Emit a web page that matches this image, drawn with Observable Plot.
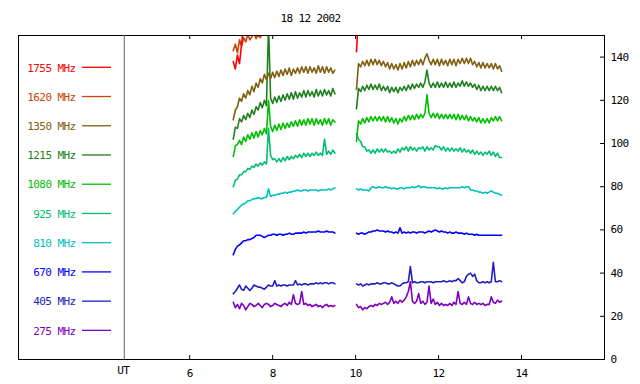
<!DOCTYPE html>
<html><head><meta charset="utf-8">
<script src="https://cdn.jsdelivr.net/npm/d3@7"></script>
<script src="https://cdn.jsdelivr.net/npm/@observablehq/plot@0.6"></script>
<style>
body{margin:0;background:#fff}
#wrap{position:relative;width:640px;height:384px}
#wrap svg text{font-family:"DejaVu Sans Mono",monospace;letter-spacing:-0.6px}
#overlay{position:absolute;left:0;top:0;pointer-events:none}
</style></head>
<body><div id="wrap"></div>
<script>
// ---- data ----
const title = "18 12 2002";
const names  = ["275 MHz","405 MHz","670 MHz","810 MHz","925 MHz","1080 MHz","1215 MHz","1350 MHz","1620 MHz","1755 MHz"];
const colors = ["#8000c0","#2020c0","#0000ff","#00c0c0","#00c070","#00c000","#208020","#806010","#cc4400","#ff0000"];
const xTicks = [6, 8, 10, 12, 14];
const yTicks = [0, 20, 40, 60, 80, 100, 120, 140];
const xLabel = "UT";
// sampling of the two observing segments (hours UT)
const seg1Start = 7.05, seg2Start = 10.02, stepH = 0.05;

const f275a = [26.5,24,25.5,23.5,26,25,23,24.5,26,25.5, 24.5,25,26,25,24,25.5,26,25.5,24.5,25, 26,25.5,25,24.5,25.5,26,25,26.5,25.5,30, 26,25.5,26,31.5,25.5,26,25,25.5,24.5,25, 25.5,24.5,25,24,25,25.5,24.5,25,24.5,25];
const f405a = [30.5,31.5,33,34.5,32.5,32,34,33,32,33, 34.5,34,33.5,33.5,33,32.5,33.5,34.5,34,34, 36.5,34,34.5,34,34.5,34.5,34,34.5,34.5,34.5, 36.5,34.5,35,34.5,35,35,34.5,35,35,35, 35.5,35,35.5,35,35.5,35.5,35,35.5,35.5,35];
const f670a = [48.5,51,52.5,53,54,55,55,55.5,55.5,56, 56.5,57.5,57.5,57.5,57,56.5,57,57.5,57.5,58, 58,57.5,58,58,57.5,58,58,58.5,58,58, 58.5,58.5,58.5,58.5,59,58.5,59,59,59,59, 59,59.5,59,59,59,59.5,59,59,59,58.5];
const f810a = [67.5,68.5,69.5,70.5,71.5,72,72.5,73.5,73.5,74, 74.5,74.5,75,74.5,74.5,75,75,79,75.5,76, 76,76.5,76.5,77,77,77.5,77,77.5,77.5,78, 78,78.5,78,78,78.5,78.5,78,78.5,78.5,78.5, 78.5,78,78.5,78.5,78.5,78.5,79,78.5,79,79.5];
const f925a = [80,83,83.5,85.5,85.5,87,87,88.5,88,89.5, 89,90.5,89.5,91,90,91.5,90.5,107,94.5,92.5, 93,91.5,93,91.5,93.5,92,94,92.5,94,93, 94.5,93.5,95,93.5,95.5,94,95.5,94,95.5,94.5, 96,94.5,95.5,94.5,102,95,96.5,95,97,95.5];
const f1080a = [94,99,99.5,101.5,99.5,103,101,104,102,105, 102.5,105.5,103,106,104,107,104.5,120,108,105.5, 108.5,106,109,106.5,109.5,107,109.5,107.5,110,108, 110.5,108,111,108.5,111,108.5,111.5,109,111.5,108.5, 111.5,109,111,108.5,111.5,109,111.5,108.5,111,110];
const f1215a = [102,107.5,107,111.5,110,113,111,114,112,115.5, 113.5,117,115.5,119,116.5,120,117.5,155,121,118.5, 121.5,119,122,119.5,122.5,120,123,120.5,123.5,120.5, 124,121,123.5,121.5,124.5,121.5,124.5,122,124,121.5, 125,122,124.5,122,125,122.5,124.5,122,125.5,123];
const f1350a = [111,115.5,117,121,119.5,123,121,124.5,122.5,126.5, 124,128,126,130,128,132,129.5,132.5,130,133, 130.5,133.5,131,134,131.5,134.5,132,135,131.5,134.5, 132.5,135,132.5,135.5,133,135.5,132.5,135.5,133,135, 132.5,136,133,135.5,132.5,135.5,133,135,132.5,134];
const f1620a = [143,146,142,148,145,149,147,150.5,148,149.5,151,148.5,150.5,149,151.5,155];
const f1755a = [138,134.5,141,137,146,155];

const f275b = [25.5,24,24.5,23,24,23.5,24.5,25,24.5,25.5, 25,26,25.5,26,26.5,25.5,26.5,29,26,27, 26,27.5,26.5,27.5,29,31.5,36,27,26,27, 30.5,26,27,25.5,26.5,34,26,28,25.5,26.5, 25,26,25,25.5,25,26,25,26.5,25.5,31.5, 26,25.5,26.5,25.5,29,26,25.5,26.5,25.5,26, 25.5,26,25,25.5,25.5,29,26.5,26,27.5,26.5, 27];
const f405b = [35,34.5,35,34,34.5,35,34.5,35,35,35, 35.5,35,35,35.5,35.5,35,35,35.5,35,34.5, 34,34,35,35.5,35.5,36,43,35.5,36,35.5, 35.5,36,36,35.5,36,36,36,35.5,36,36, 36,36,36.5,36,36,36.5,36,36.5,36.5,37.5, 36.5,35.5,36,38.5,39.5,40,38.5,39.5,36.5,35.5, 35.5,36,35.5,36,35.5,36,45,36,36,36.5, 36];
const f670b = [58.5,58,58.5,58.5,58,58.5,59,59,59.5,59.5, 60,59.5,59.5,59.5,59,59.5,59,59,58.5,59, 58.5,61,58.5,59,58.5,59,58.5,59,59,58.5, 59,59,59,58.5,59,59.5,59,59.5,60,59.5, 59,59.5,59,59,58.5,59,58.5,58.5,59,58.5, 58.5,58.5,58,58.5,58,58,58,57.5,58,57.5, 57.5,57.5,57.5,57.5,57.5,57.5,57.5,57.5,57.5,57.5, 57.5];
const f810b = [79,78.5,79,78.5,78.5,78.5,78,79.5,80,79.5, 79.5,80,79.5,79.5,80,79.5,79.5,79,79.5,79, 79,79.5,79.5,79,79.5,79.5,79.5,80,79.5,80, 80.5,79.5,80,80,79.5,79.5,79.5,79.5,79.5,79, 79.5,79,79,79.5,79,79.5,79.5,79.5,79.5,79.5, 79.5,80,79.5,80,80,78.5,78.5,78,78,77.5, 77.5,77,77.5,77,77.5,78,77.5,77,77,76.5, 76];
const f925b = [104.5,102,101,98.5,98.5,96.5,97,95.5,97,95.5, 97.5,96,97.5,96,97.5,96,96.5,95.5,96.5,95.5, 97.5,96,98,97,98.5,96.5,98.5,97,98,96.5, 98,97.5,98.5,96.5,98.5,97,98,97,99,98.5, 98.5,97,98.5,96.5,98,96.5,98,96.5,97.5,96.5, 98,96,97.5,96,97,95.5,97,95,96.5,95, 96,94.5,96,95,96.5,94.5,96,94,95.5,93.5, 93.5];
const f1080b = [101,110.5,109,111.5,109.5,112,110,112.5,110.5,112.5, 110.5,112.5,110.5,112.5,110,112.5,110,112,109.5,111.5, 109,111.5,110,112.5,110.5,113,111,113,111,113.5, 111.5,113.5,112,114,122.5,114,112,114,112,114, 111.5,113.5,111.5,113.5,111.5,113.5,111.5,113.5,111,113.5, 111,113,111,113,110.5,112.5,110.5,112,110,112, 109.5,111.5,109.5,111.5,109.5,112,110.5,112.5,110.5,112.5, 110.5];
const f1215b = [116,125.5,124,126.5,124.5,127,125,127.5,125,127, 125,127.5,124.5,126.5,124.5,126.5,123.5,126,124,126, 123.5,126,124.5,126.5,124.5,127,125,127.5,125.5,127.5, 126,128,126,128.5,134,128,126,128,126,128.5, 126,128,126,128.5,126,128,126,128.5,126,128, 126.5,129,126.5,128.5,126.5,128,126,127.5,125,127, 124.5,126.5,124.5,126.5,124.5,126.5,124.5,126.5,124.5,126, 123.5];
const f1350b = [125,137,135.5,138,136,138.5,136,139,136.5,139, 136.5,138.5,136,138,135.5,137.5,134.5,137,134.5,136.5, 134,137,134.5,137.5,135,138,135.5,138.5,136,138.5, 136.5,139,136.5,139.5,141.5,138.5,136.5,139,136.5,139, 136,139,136.5,138.5,136,139,136.5,139,136,139, 137,139.5,137,139.5,137,139.5,136.5,138,135.5,137.5, 135,137.5,135,137,135,137,134.5,137,134.5,136, 133.5];
const f1620b = [];
const f1755b = [142.5,160];

const seg1 = [f275a,f405a,f670a,f810a,f925a,f1080a,f1215a,f1350a,f1620a,f1755a];
const seg2 = [f275b,f405b,f670b,f810b,f925b,f1080b,f1215b,f1350b,f1620b,f1755b];

const data = [];
names.forEach((name, k) => {
  seg1[k].forEach((v, i) => data.push({name, key: name + "-1", t: seg1Start + i * stepH, v}));
  seg2[k].forEach((v, i) => data.push({name, key: name + "-2", t: seg2Start + i * stepH, v}));
});

// ---- chart ----
const W = 640, H = 384, mL = 18, mR = 36, mT = 35, mB = 25;
const frameH = H - mT - mB, frameW = W - mL - mR, tick = 4;

const chart = Plot.plot({
  width: W, height: H,
  marginLeft: mL, marginRight: mR, marginTop: mT, marginBottom: mB,
  style: {fontSize: "11px", background: "white", color: "black", overflow: "visible"},
  x: {domain: [1.872, 16]},
  y: {domain: [0, 150]},
  color: {domain: names, range: colors},
  marks: [
    Plot.line(data, {x: "t", y: "v", z: "key", stroke: "name", curve: "linear", strokeWidth: 1.6, clip: true}),
    Plot.ruleX(xTicks, {x: d => d, insetTop: frameH - tick, stroke: "black"}),
    Plot.ruleX(xTicks, {x: d => d, insetBottom: frameH - tick, stroke: "black"}),
    Plot.ruleY(yTicks, {y: d => d, insetLeft: frameW - tick, stroke: "black"}),
    Plot.axisX({ticks: xTicks, tickSize: 0, tickPadding: 10, label: null}),
    Plot.axisY({anchor: "right", ticks: yTicks, tickSize: 0, tickPadding: 6, label: null}),
    Plot.frame({stroke: "black"})
  ]
});
const wrap = document.getElementById("wrap");
wrap.appendChild(chart);

// ---- overlay: title, legend, UT separator ----
const ov = d3.select(wrap).append("svg").attr("id", "overlay").attr("width", W).attr("height", H);
ov.append("text").attr("x", 310.5).attr("y", 22).attr("text-anchor", "middle")
  .attr("font-size", 11).attr("fill", "black").text(title);
const sepX = 124.3;
ov.append("line").attr("x1", sepX).attr("x2", sepX).attr("y1", mT).attr("y2", H - mB)
  .attr("stroke", "#666").attr("stroke-width", 1);
ov.append("text").attr("x", sepX - 1).attr("y", 374).attr("text-anchor", "middle")
  .attr("font-size", 11).attr("fill", "black").text(xLabel);
const legendOrder = names.map((n, k) => k).reverse();
legendOrder.forEach((k, r) => {
  const cy = 67.3 + r * 29.23;
  ov.append("text").attr("x", 75.5).attr("y", cy + 4.2).attr("text-anchor", "end")
    .attr("font-size", 11).attr("fill", colors[k]).text(names[k]);
  ov.append("line").attr("x1", 82).attr("x2", 111).attr("y1", cy).attr("y2", cy)
    .attr("stroke", colors[k]).attr("stroke-width", 1.3);
});
</script>
</body></html>
